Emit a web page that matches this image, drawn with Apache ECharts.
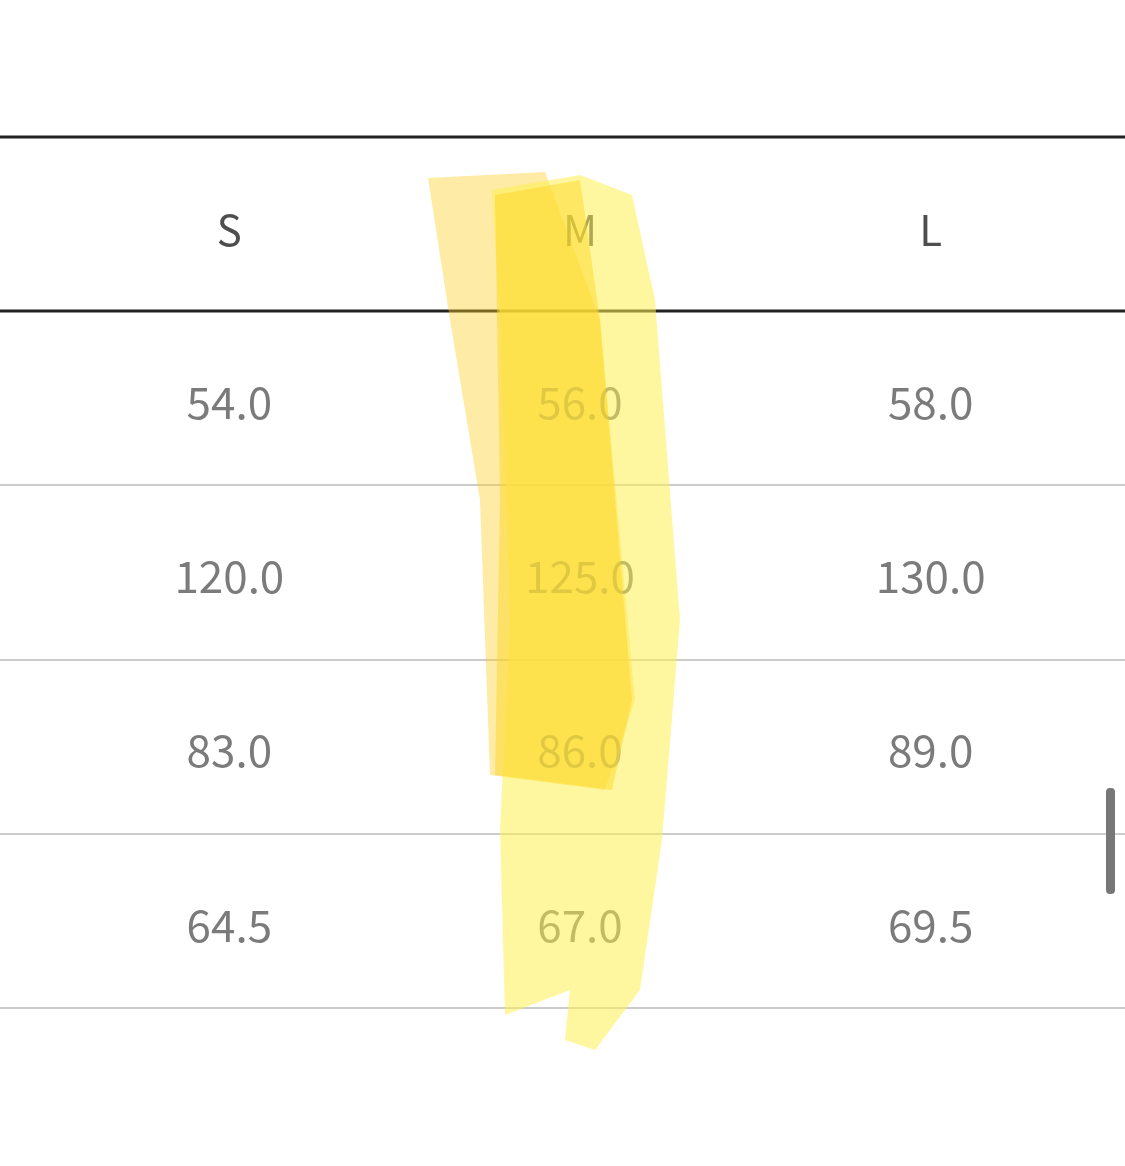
<!DOCTYPE html>
<html><head><meta charset="utf-8">
<script src="https://cdn.jsdelivr.net/npm/echarts@6/dist/echarts.min.js"></script>
<style>html,body{margin:0;background:#fff}#c{width:1125px;height:1166px}</style>
</head><body><div id="c"></div>
<script>
var sizes = ['S', 'M', 'L'];
var rows = ['head', 'r1', 'r2', 'r3', 'r4'];
var valS = ['54.0', '120.0', '83.0', '64.5'];
var valM = ['56.0', '125.0', '86.0', '67.0'];
var valL = ['58.0', '130.0', '89.0', '69.5'];

var cols = [valS, valM, valL];
var headData = [], cellData = [];
sizes.forEach(function (s, i) {
    headData.push({value: [s, 'head'], label: {formatter: s}});
    cols[i].forEach(function (v, j) {
        cellData.push({value: [s, rows[j + 1]], label: {formatter: v}});
    });
});

var myChart = echarts.init(document.getElementById('c'));
var option = {
    animation: false,
    grid: {left: 54, right: 19, top: 137, bottom: 158},
    xAxis: {type: 'category', data: sizes, show: false},
    yAxis: {type: 'category', data: rows, inverse: true, show: false},
    series: [
        {type: 'scatter', symbolSize: 0, data: headData,
         label: {show: true, position: 'inside', offset: [0, 6], fontFamily: 'Noto Sans CJK SC', fontSize: 42, color: '#222'}},
        {type: 'scatter', symbolSize: 0, data: cellData,
         label: {show: true, position: 'inside', offset: [0, 4], fontFamily: 'Noto Sans CJK SC', fontSize: 44, color: '#5a5a5a'}}
    ]
};
myChart.setOption(option);

// table rules from row boundaries
var gfx = [];
var step = myChart.convertToPixel({yAxisIndex: 0}, 'r1') - myChart.convertToPixel({yAxisIndex: 0}, 'head');
var top0 = myChart.convertToPixel({yAxisIndex: 0}, 'head') - step / 2;
for (var k = 0; k <= rows.length; k++) {
    var y = Math.round(top0 + k * step);
    var dark = k < 2;
    gfx.push({type: 'line', shape: {x1: 0, y1: y, x2: 1125, y2: y},
        style: {stroke: dark ? '#222' : '#ccc', lineWidth: dark ? 3 : 2}, z: 1});
}
// highlighter strokes
gfx.push({type: 'polygon', z: 2, shape: {points: [[428,178],[545,172],[600,320],[635,700],[605,790],[490,775],[480,500],[450,320]]},
    style: {fill: 'rgba(252,205,30,0.4)'}});
gfx.push({type: 'polygon', z: 3, shape: {points: [[492,190],[580,175],[632,195],[655,300],[680,620],[662,840],[640,990],[595,1050],[565,1040],[570,990],[505,1015],[500,830],[510,620],[500,320]]},
    style: {fill: 'rgba(255,240,80,0.55)'}});
gfx.push({type: 'polygon', z: 4, shape: {points: [[495,195],[580,180],[600,320],[632,700],[612,790],[495,775],[500,500]]},
    style: {fill: 'rgba(253,215,40,0.5)'}});
// scrollbar
gfx.push({type: 'rect', z: 5, shape: {x: 1106, y: 788, width: 9, height: 106, r: 4}, style: {fill: '#777'}});
myChart.setOption({graphic: gfx});
</script></body></html>
